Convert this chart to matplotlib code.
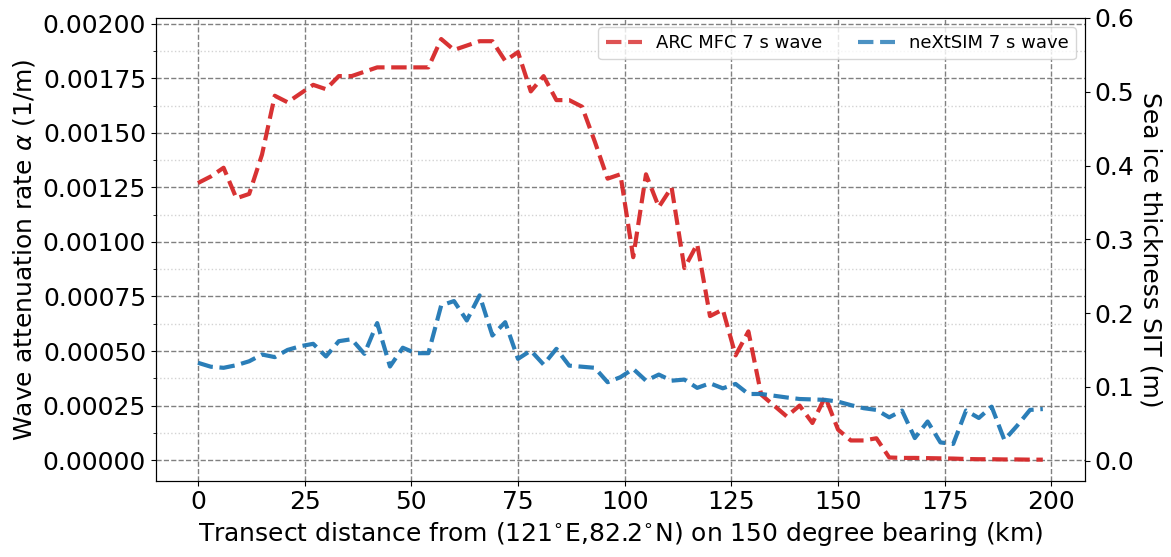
import numpy as np
import matplotlib
matplotlib.use("Agg")
import matplotlib.pyplot as plt
from matplotlib.ticker import AutoMinorLocator

# transect samples (km), every 3 km
distance = [0, 3, 6, 9, 12, 15, 18, 21, 24, 27, 30, 33, 36, 39, 42, 45, 48, 51, 54,
            57, 60, 63, 66, 69, 72, 75, 78, 81, 84, 87, 90, 93, 96, 99, 102, 105,
            108, 111, 114, 117, 120, 123, 126, 129, 132, 135, 138, 141, 144, 147,
            150, 153, 156, 159, 162, 165, 168, 171, 174, 177, 180, 183, 186, 189,
            192, 195, 198]

# attenuation rate (1/m)
arc_mfc = [0.00127, 0.00130, 0.00134, 0.00120, 0.00122, 0.00140, 0.00167, 0.00164,
           0.00168, 0.00172, 0.00170, 0.00176, 0.00176, 0.00178, 0.00180, 0.00180,
           0.00180, 0.00180, 0.00180, 0.00193, 0.00188, 0.00190, 0.00192, 0.00192,
           0.00183, 0.00187, 0.00169, 0.00176, 0.00165, 0.00165, 0.00162, 0.00146,
           0.00129, 0.00131, 0.00093, 0.00131, 0.00116, 0.00125, 0.00088, 0.00099,
           0.00066, 0.00069, 0.00048, 0.00059, 0.00030, 0.00025, 0.00020, 0.00025,
           0.00017, 0.00029, 0.00014, 0.00009, 0.00009, 0.00010, 0.000012, 0.000010,
           0.000010, 0.000009, 0.000008, 0.000007, 0.000005, 0.000004, 0.000004,
           0.000003, 0.000003, 0.000002, 0.000002]

nextsim = [0.000446, 0.000428, 0.000423, 0.000435, 0.000453, 0.000484, 0.000472,
           0.000505, 0.000522, 0.000533, 0.000475, 0.000545, 0.000554, 0.000487,
           0.000628, 0.000429, 0.000515, 0.000490, 0.000490, 0.000709, 0.000729,
           0.000640, 0.000755, 0.000571, 0.000632, 0.000464, 0.000502, 0.000438,
           0.000510, 0.000433, 0.000428, 0.000423, 0.000357, 0.000380, 0.000418,
           0.000364, 0.000392, 0.000364, 0.000369, 0.000331, 0.000352, 0.000329,
           0.000349, 0.000303, 0.000303, 0.000295, 0.000287, 0.000280, 0.000278,
           0.000276, 0.000268, 0.000252, 0.000238, 0.000230, 0.000196, 0.000227,
           0.000101, 0.000177, 0.000081, 0.000074, 0.000227, 0.000193, 0.000245,
           0.000092, 0.000158, 0.000230, 0.000234]

fig = plt.figure(figsize=(11.71, 5.57), dpi=100)
ax = fig.add_subplot(111)
fig.subplots_adjust(left=0.133, right=0.9266, top=0.9677, bottom=0.137)

ax.plot(distance, arc_mfc, "--", color="tab:red", lw=3, alpha=0.95, label="ARC MFC 7 s wave")
ax.plot(distance, nextsim, "--", color="tab:blue", lw=3, alpha=0.95, label="neXtSIM 7 s wave")

ax.yaxis.set_minor_locator(AutoMinorLocator(2))
ax.grid(which="major", linestyle="--", color="gray", lw=1)
ax.grid(which="minor", linestyle=":", color="lightgray", lw=1)
ax.set_axisbelow(True)
ax.set_yticks(np.arange(0, 0.00201, 0.00025))
ax.tick_params(labelsize=18)
ax.set_xlabel("Transect distance from (121$^{\\circ}$E,82.2$^{\\circ}$N) on 150 degree bearing (km)", fontsize=18)
ax.set_ylabel("Wave attenuation rate $\\alpha$ (1/m)", fontsize=18)
leg = ax.legend(loc="upper right", ncol=2, fontsize=13)
for h in leg.get_lines():
    h.set_alpha(0.8)

ax2 = ax.twinx()
ax2.set_ylim(-0.027, 0.6)
ax2.tick_params(labelsize=18)
ax2.set_ylabel("Sea ice thickness SIT (m)", fontsize=18, rotation=270, labelpad=20)

fig.savefig("out.png", dpi=100)
